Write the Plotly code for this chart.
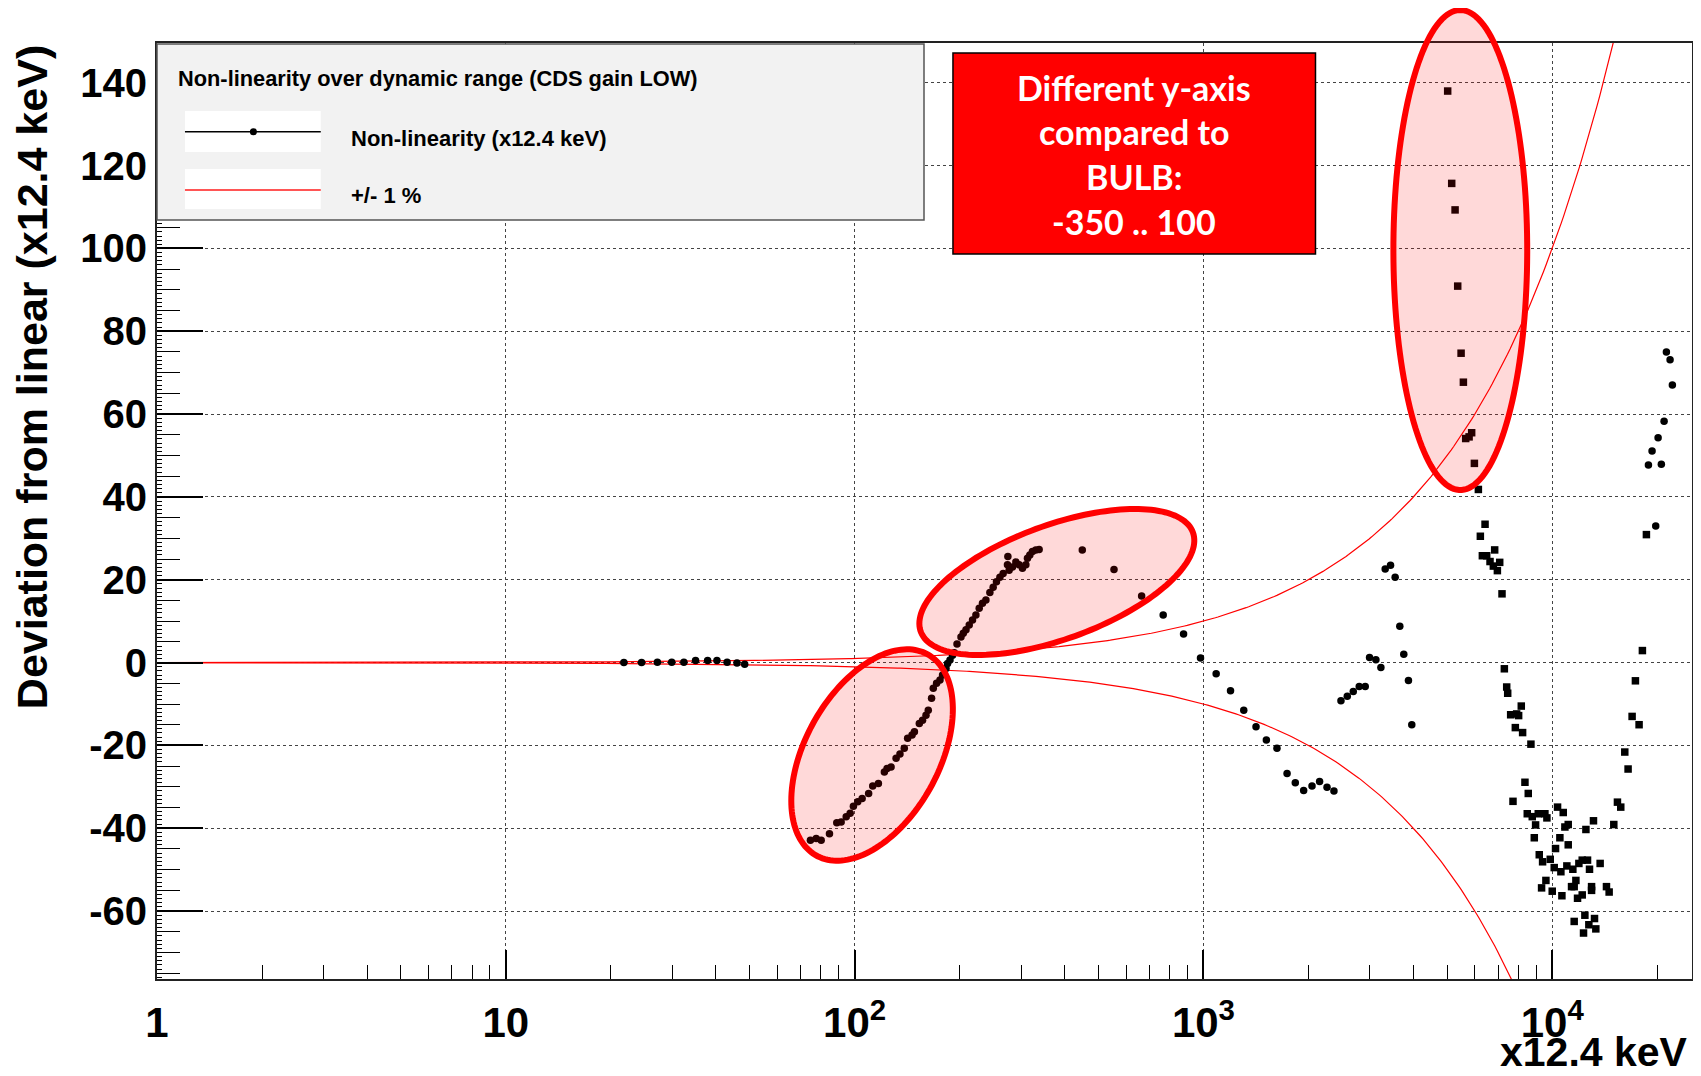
import numpy as np
import plotly.graph_objects as go

# ---------------- data ----------------
x_flat = [21.8, 24.5, 27.2, 29.9, 32.4, 35.0, 37.9, 40.3, 43.1, 46.0, 48.4]
y_flat = [0.0, 0.0, 0.1, 0.1, 0.1, 0.5, 0.5, 0.5, 0.1, -0.1, -0.4]

x_ramp = [74.7, 77.6, 80.2, 84.7, 88.9, 91.5, 94.6, 97.1, 99.2, 102.1, 105.1, 109.7, 112.7,
          117.0, 121.7, 123.9, 127.2, 131.5, 134.9, 138.8, 141.9, 146.1, 148.4, 153.3, 156.6,
          160.2, 162.6, 166.2, 168.1, 171.8, 175.7, 178.7, 182.8, 184.7, 187.7, 190.9, 193.1,
          196.6, 201.8, 204.9, 208.6, 213.1, 217.8, 222.7, 227.6, 232.6, 237.9, 244.2, 249.6,
          255.1, 260.9, 266.6, 274.3, 275.0, 277.3, 283.5, 289.9, 296.3, 302.8, 309.7, 313.0,
          317.9, 323.4, 330.7, 338.0]
y_ramp = [-42.9, -42.5, -42.9, -41.3, -38.7, -38.5, -37.2, -36.4, -34.7, -33.6, -32.8, -31.6,
          -29.8, -29.2, -26.4, -25.6, -25.2, -23.1, -22.1, -20.7, -18.3, -17.5, -16.7, -14.7,
          -13.9, -12.7, -11.5, -8.6, -6.2, -5.0, -4.2, -3.0, -1.4, -0.2, 0.6, 1.8, 2.4, 4.5,
          6.2, 7.1, 7.9, 9.1, 10.3, 11.5, 13.1, 14.3, 15.1, 16.9, 18.2, 19.5, 20.6, 21.5, 23.6,
          25.6, 22.3, 23.1, 24.3, 23.6, 22.8, 23.6, 25.2, 26.0, 26.8, 27.2, 27.3]

x_tail = [449.5, 554.1, 665.0, 766.8, 877.2, 981.0, 1087.6, 1195.8, 1305, 1415, 1515, 1625,
          1737, 1834, 1938, 2048, 2153, 2261, 2367, 2479, 2585, 2689, 2797, 2910, 2994, 3122,
          3227, 3320, 3439, 3545, 3656, 3753, 3871, 3957]
y_tail = [27.2, 22.5, 16.1, 11.5, 6.9, 1.1, -2.7, -6.8, -11.5, -15.5, -18.7, -20.7, -26.8,
          -29.0, -30.9, -29.8, -28.7, -30.1, -31.0, -9.2, -8.1, -7.0, -5.8, -5.8, 1.2, 0.7,
          -1.2, 22.6, 23.5, 20.6, 8.8, 2.0, -4.3, -15.0]

x_spike = [5015, 5150, 5266, 5358, 5479, 5563, 5648, 5776, 5875, 5982, 6141,
           6418, 6222, 6305, 6488, 6839, 6632, 6779, 6962, 7070, 7178, 7290, 7404, 7453,
           7600, 7907, 8011, 8152, 7838, 8224, 8688, 8352, 8537, 7718, 8480, 8765, 9118,
           9528, 9654, 8960, 8883, 9179, 9383, 9870, 10132, 10588, 11014, 11458, 11923,
           12189, 12624, 12790, 13720, 10358, 10753, 11113, 10872, 10518, 11113, 10221,
           12490, 13130, 15014, 15380, 15720, 16143, 16500, 16943, 17742, 17318, 18134, 18621,
           9321, 9591, 10000, 10659, 11359, 11560, 11690, 11818, 12189, 12965, 12965, 14305,
           14560, 11560, 12405, 12734, 13219, 12295, 13335]
y_spike = [138.0, 115.7, 109.3, 90.9, 74.7, 67.7, 54.1, 54.5, 55.5, 48.1, 41.8,
           33.4, 30.5, 25.8, 25.8, 27.2, 24.4, 23.3, 22.2, 24.2, 16.6, -1.5, -5.9, -7.4,
           -12.6, -12.4, -12.8, -10.5, -15.7, -16.9, -19.7, -28.9, -31.6, -33.5, -36.5, -37.2,
           -36.5, -36.5, -37.5, -39.2, -42.3, -46.4, -48.1, -47.5, -49.5, -50.5, -49.1, -49.9,
           -48.5, -47.7, -47.7, -49.9, -48.5, -34.9, -36.2, -39.1, -39.7, -42.3, -44.0, -44.9,
           -40.3, -38.2, -39.1, -33.7, -34.9, -21.6, -25.7, -13.0, -15.0, -4.4, 2.9, 30.9,
           -54.4, -52.6, -55.2, -56.3, -54.1, -54.1, -52.6, -56.9, -56.1, -54.1, -55.0, -54.1,
           -55.4, -62.5, -61.0, -63.3, -61.8, -65.3, -64.3]

x_rise = [19801, 18870, 20550, 19330, 20115, 20924, 22100, 21768, 21247]
y_rise = [33.0, 47.7, 47.9, 51.1, 54.3, 58.3, 67.0, 73.1, 75.0]

band_fraction = 0.01          # +/- 1 %
x_ticks = [1, 10, 100, 1000, 10000]
x_ticktext = ["1", "10", "10<sup>2</sup>", "10<sup>3</sup>", "10<sup>4</sup>"]
y_ticks = [-60, -40, -20, 0, 20, 40, 60, 80, 100, 120, 140]
y_ticktext = ["-60", "-40", "-20", "0", "20", "40", "60", "80", "100", "120", "140"]
X_LOG_RANGE = [0.0, 4.4007]
Y_RANGE = [-76.4, 149.6]

# ---------------- geometry helpers (page pixel -> paper) ----------------
BODY = 8                       # default page margin of the html body
W, H = 1701, 1076              # browser window
PL, PR, PT, PB = 157, 1694, 43, 979   # plot frame in window pixels


def pxx(x):
    return (x - PL) / (PR - PL)


def pxy(y):
    return (PB - y) / (PB - PT)


def ellipse_path(cx, cy, a, b, ang_deg, n=160):
    th = np.radians(ang_deg)
    t = np.linspace(0, 2 * np.pi, n)
    X = cx + a * np.cos(t) * np.cos(th) - b * np.sin(t) * np.sin(th)
    Y = cy - (a * np.cos(t) * np.sin(th) + b * np.sin(t) * np.cos(th))
    pts = [f"{pxx(x):.5f},{pxy(y):.5f}" for x, y in zip(X, Y)]
    return "M " + " L ".join(pts) + " Z"


FONT = "Liberation Sans, Arial, Helvetica, sans-serif"

fig = go.Figure()

# +/- 1 % band
xb = np.logspace(X_LOG_RANGE[0], X_LOG_RANGE[1], 600)
fig.add_trace(go.Scatter(x=xb, y=band_fraction * xb, mode="lines",
                         line=dict(color="red", width=1.2), showlegend=False, hoverinfo="skip"))
fig.add_trace(go.Scatter(x=xb, y=-band_fraction * xb, mode="lines",
                         line=dict(color="red", width=1.2), showlegend=False, hoverinfo="skip"))

# non-linearity points
xc = x_flat + x_ramp + x_tail + x_rise
yc = y_flat + y_ramp + y_tail + y_rise
fig.add_trace(go.Scatter(x=xc, y=yc, mode="markers",
                         marker=dict(color="black", size=7.5, symbol="circle"),
                         showlegend=False))
fig.add_trace(go.Scatter(x=x_spike, y=y_spike, mode="markers",
                         marker=dict(color="black", size=7.5, symbol="square"),
                         showlegend=False))
# carrier for fine tick axis
fig.add_trace(go.Scatter(x=[None], y=[None], yaxis="y2", showlegend=False, hoverinfo="skip"))

minor_x = [m * 10 ** d for d in range(0, 5) for m in range(2, 10) if m * 10 ** d < 10 ** X_LOG_RANGE[1]]

fig.update_layout(
    width=W - BODY, height=H - BODY,
    margin=dict(l=PL - BODY, r=W - PR, t=PT - BODY, b=H - PB),
    paper_bgcolor="white", plot_bgcolor="white",
    showlegend=False,
    xaxis=dict(type="log", range=X_LOG_RANGE, tickmode="array", tickvals=x_ticks,
               ticktext=x_ticktext, ticks="inside", ticklen=29, tickwidth=1.5,
               tickcolor="black", showgrid=True, gridcolor="#444", griddash="dot",
               gridwidth=1, showline=True, linecolor="#222", linewidth=2, mirror=True,
               zeroline=False, ticklabelstandoff=6,
               tickfont=dict(family=FONT, size=42, color="black", weight="bold"),
               minor=dict(tickmode="array", tickvals=minor_x, ticks="inside", ticklen=14,
                          tickwidth=1.2, tickcolor="black", showgrid=False)),
    yaxis=dict(range=Y_RANGE, tickmode="array", tickvals=y_ticks, ticktext=y_ticktext,
               ticks="inside", ticklen=46, tickwidth=1.5, tickcolor="black", showgrid=True,
               gridcolor="#444", griddash="dot", gridwidth=1, showline=True,
               linecolor="#222", linewidth=2, mirror=True, zeroline=False,
               ticklabelstandoff=0,
               tickfont=dict(family=FONT, size=40, color="black", weight="bold"),
               minor=dict(dtick=5, tick0=0, ticks="inside", ticklen=23, tickwidth=1.2,
                          tickcolor="black", showgrid=False)),
    yaxis2=dict(range=Y_RANGE, overlaying="y", side="left", dtick=1, tick0=0,
                ticks="inside", ticklen=5, tickwidth=1, tickcolor="black",
                showticklabels=False, showgrid=False, zeroline=False, showline=False),
)

shapes = []
# legend box
shapes.append(dict(type="rect", xref="paper", yref="paper", x0=pxx(157), x1=pxx(925),
                   y0=pxy(220), y1=pxy(44), fillcolor="#f2f2f2",
                   line=dict(color="#555", width=1.5), layer="above"))
for (ya, yb) in [(111, 152), (169, 209)]:
    shapes.append(dict(type="rect", xref="paper", yref="paper", x0=pxx(185), x1=pxx(321),
                       y0=pxy(yb), y1=pxy(ya), fillcolor="white", line=dict(width=0),
                       layer="above"))
shapes.append(dict(type="line", xref="paper", yref="paper", x0=pxx(185), x1=pxx(321),
                   y0=pxy(131.7), y1=pxy(131.7), line=dict(color="black", width=1.5),
                   layer="above"))
shapes.append(dict(type="circle", xref="paper", yref="paper", x0=pxx(250), x1=pxx(257),
                   y0=pxy(135.2), y1=pxy(128.2), fillcolor="black",
                   line=dict(color="black", width=0), layer="above"))
shapes.append(dict(type="line", xref="paper", yref="paper", x0=pxx(185), x1=pxx(321),
                   y0=pxy(190), y1=pxy(190), line=dict(color="#ff5555", width=2),
                   layer="above"))
# red note box
shapes.append(dict(type="rect", xref="paper", yref="paper", x0=pxx(954), x1=pxx(1317),
                   y0=pxy(254), y1=pxy(53), fillcolor="#ff0000",
                   line=dict(color="black", width=1.5), layer="above"))
# highlight ellipses
for (cx, cy, a, b, ang) in [(873, 755, 115, 67, 61), (1058, 582, 145, 57, 20),
                            (1462, 250, 240, 67, 90)]:
    shapes.append(dict(type="path", xref="paper", yref="paper", path=ellipse_path(cx, cy, a, b, ang),
                       fillcolor="rgba(255,0,0,0.15)", line=dict(color="#ff0000", width=6),
                       layer="above"))
fig.update_layout(shapes=shapes)

ann = []
ann.append(dict(text="Non-linearity over dynamic range (CDS gain LOW)", x=pxx(176), y=pxy(79),
                xref="paper", yref="paper", xanchor="left", yanchor="middle", showarrow=False,
                font=dict(family=FONT, size=21.8, color="black", weight="bold")))
ann.append(dict(text="Non-linearity (x12.4 keV)", x=pxx(349), y=pxy(139), xref="paper",
                yref="paper", xanchor="left", yanchor="middle", showarrow=False,
                font=dict(family=FONT, size=22, color="black", weight="bold")))
ann.append(dict(text="+/- 1 %", x=pxx(349), y=pxy(196), xref="paper", yref="paper",
                xanchor="left", yanchor="middle", showarrow=False,
                font=dict(family=FONT, size=22, color="black", weight="bold")))
for txt, yy in [("Different y-axis", 87), ("compared to", 131), ("BULB:", 176), ("-350 .. 100", 221)]:
    ann.append(dict(text=txt, x=pxx(1135.5), y=pxy(yy), xref="paper", yref="paper",
                    xanchor="center", yanchor="middle", showarrow=False,
                    font=dict(family="Lato, Open Sans, sans-serif", size=34, color="white",
                              weight="bold")))
ann.append(dict(text="Deviation from linear (x12.4 keV)", x=pxx(32), y=pxy(377),
                xref="paper", yref="paper", xanchor="center", yanchor="middle",
                textangle=-90, showarrow=False,
                font=dict(family=FONT, size=43, color="black", weight="bold")))
ann.append(dict(text="x12.4 keV", x=pxx(1692), y=pxy(1052), xref="paper", yref="paper",
                xanchor="right", yanchor="middle", showarrow=False,
                font=dict(family=FONT, size=41, color="black", weight="bold")))
fig.update_layout(annotations=ann)

fig.write_html("out.html")
